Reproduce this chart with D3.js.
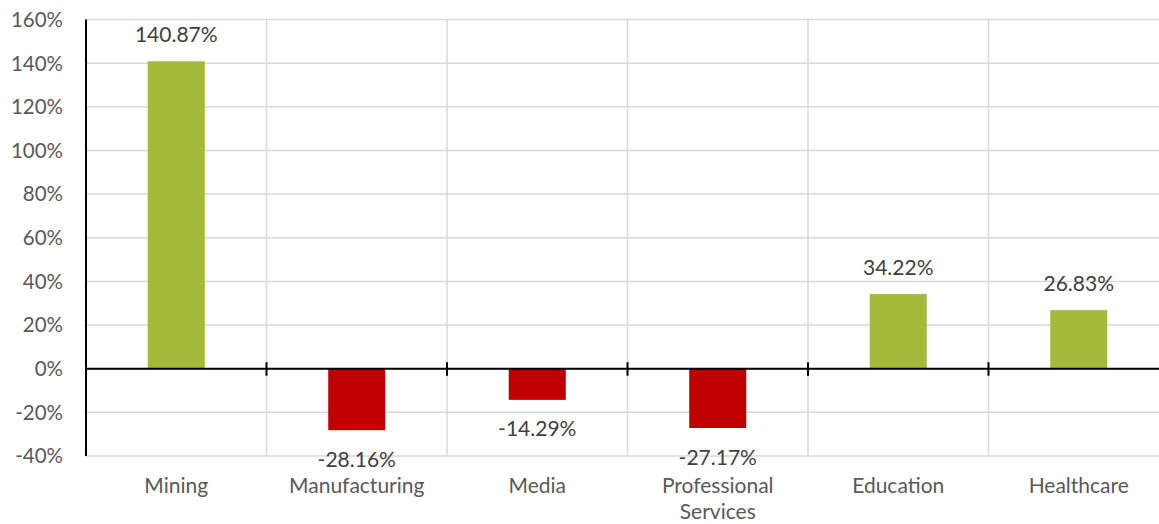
<!DOCTYPE html>
<html>
<head>
<meta charset="utf-8">
<script src="https://cdn.jsdelivr.net/npm/d3@7"></script>
<style>
  html, body { margin: 0; padding: 0; background: #fff; }
  svg { display: block; font-family: Lato, "Open Sans", sans-serif; }
</style>
</head>
<body>
<svg id="chart" width="1159" height="524"></svg>
<script>
// Change by industry, percent
const categories = ["Mining", "Manufacturing", "Media", "Professional Services", "Education", "Healthcare"];
const values = [140.87, -28.16, -14.29, -27.17, 34.22, 26.83];
const yTicks = [-40, -20, 0, 20, 40, 60, 80, 100, 120, 140, 160];

const W = 1159, H = 524;
const plot = { left: 86, right: 1169, top: 19.5, bottom: 456 };

const svg = d3.select("#chart");

const x = d3.scaleBand()
  .domain(categories)
  .range([plot.left, plot.right])
  .paddingInner(0)
  .paddingOuter(0);

const y = d3.scaleLinear()
  .domain([-40, 160])
  .range([plot.bottom, plot.top]);

const barW = x.bandwidth() * 0.316;

// horizontal gridlines
svg.append("g")
  .selectAll("line")
  .data(yTicks)
  .join("line")
  .attr("x1", plot.left)
  .attr("x2", W)
  .attr("y1", d => y(d))
  .attr("y2", d => y(d))
  .attr("stroke", "#d9d9d9")
  .attr("stroke-width", 1.5);

// vertical gridlines at category boundaries
svg.append("g")
  .selectAll("line")
  .data(categories.slice(1))
  .join("line")
  .attr("x1", d => x(d))
  .attr("x2", d => x(d))
  .attr("y1", plot.top)
  .attr("y2", plot.bottom)
  .attr("stroke", "#d9d9d9")
  .attr("stroke-width", 1.5);

// y tick labels
svg.append("g")
  .selectAll("text")
  .data(yTicks)
  .join("text")
  .attr("x", 63)
  .attr("y", d => y(d))
  .attr("dy", "0.36em")
  .attr("text-anchor", "end")
  .attr("font-size", 20.5)
  .attr("fill", "#595959")
  .text(d => d + "%");

// bars
svg.append("g")
  .selectAll("rect")
  .data(categories)
  .join("rect")
  .attr("x", (d) => x(d) + (x.bandwidth() - barW) / 2)
  .attr("width", barW)
  .attr("y", (d, i) => y(Math.max(0, values[i])))
  .attr("height", (d, i) => Math.abs(y(values[i]) - y(0)))
  .attr("fill", (d, i) => values[i] >= 0 ? "#a5ba3a" : "#c00000");

// value labels
svg.append("g")
  .selectAll("text")
  .data(categories)
  .join("text")
  .attr("x", d => x(d) + x.bandwidth() / 2)
  .attr("y", (d, i) => values[i] >= 0 ? y(values[i]) - 26.5 : y(values[i]) + 29)
  .attr("dy", "0.36em")
  .attr("text-anchor", "middle")
  .attr("font-size", 21)
  .attr("fill", "#404040")
  .text((d, i) => values[i].toFixed(2) + "%");

// left axis line
svg.append("line")
  .attr("x1", plot.left).attr("x2", plot.left)
  .attr("y1", plot.top).attr("y2", plot.bottom)
  .attr("stroke", "#000").attr("stroke-width", 2);

// zero baseline with crossing ticks at category boundaries
const axisG = svg.append("g")
  .attr("transform", `translate(0,${y(0)})`);
axisG.append("line")
  .attr("x1", plot.left).attr("x2", W)
  .attr("y1", 0).attr("y2", 0)
  .attr("stroke", "#000").attr("stroke-width", 2);
axisG.selectAll(".bound")
  .data(categories)
  .join("line")
  .attr("class", "bound")
  .attr("x1", d => x(d)).attr("x2", d => x(d))
  .attr("y1", -6.5).attr("y2", 7)
  .attr("stroke", "#000").attr("stroke-width", 2);

// category labels, wrapped to the band width
const catG = svg.append("g");
categories.forEach(c => {
  const cx = x(c) + x.bandwidth() / 2;
  const t = catG.append("text")
    .attr("x", cx)
    .attr("y", 485)
    .attr("text-anchor", "middle")
    .attr("font-size", 21)
    .attr("fill", "#595959");
  const words = c.split(" ");
  let line = [];
  let tspan = t.append("tspan").attr("x", cx).attr("dy", "0.36em");
  words.forEach(w => {
    line.push(w);
    tspan.text(line.join(" "));
    if (tspan.node().getComputedTextLength() > x.bandwidth() * 0.92 && line.length > 1) {
      line.pop();
      tspan.text(line.join(" "));
      line = [w];
      tspan = t.append("tspan")
        .attr("x", cx)
        .attr("dy", 26.5)
        .text(w);
    }
  });
});
</script>
</body>
</html>
